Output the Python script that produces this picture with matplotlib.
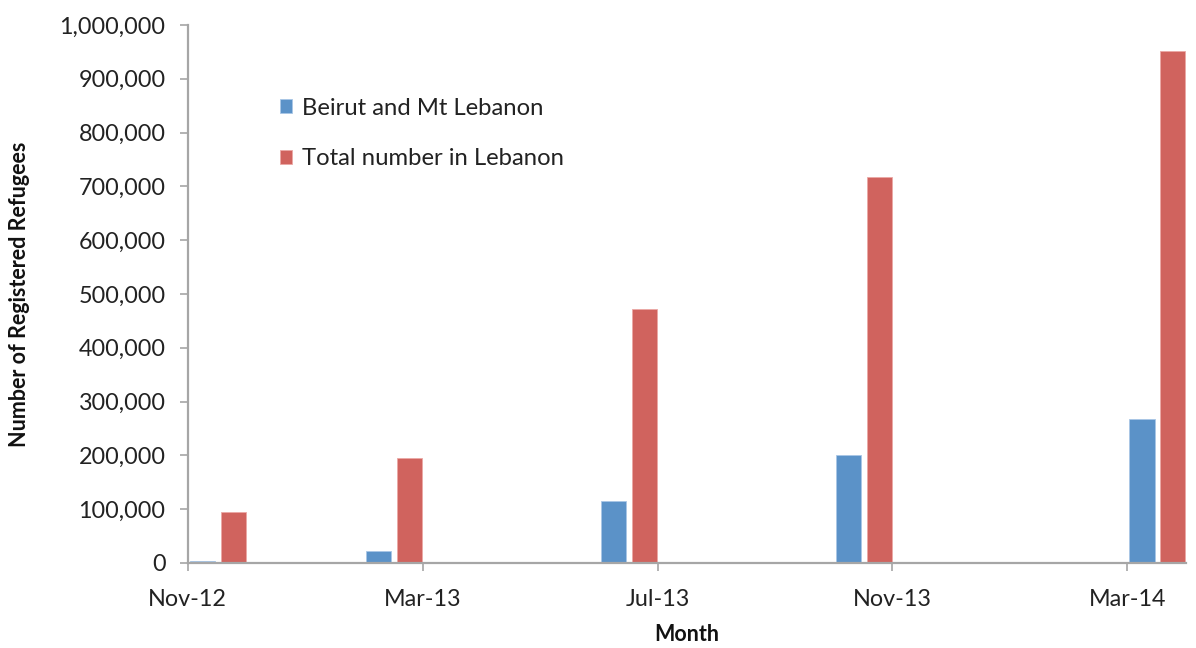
import matplotlib
matplotlib.use("Agg")
import matplotlib.pyplot as plt
from matplotlib.ticker import FuncFormatter, FixedLocator

plt.rcParams['font.family'] = ['Lato', 'DejaVu Sans']

# Months counted from Nov-2012 (0) along a monthly date axis
month_index = [0, 3, 7, 11, 16]
beirut_mt_lebanon = [3000, 22000, 116000, 201000, 268000]
total_lebanon = [95000, 195000, 472000, 717000, 952000]

tick_months = [0, 4, 8, 12, 16]
tick_labels = ["Nov-12", "Mar-13", "Jul-13", "Nov-13", "Mar-14"]

series_names = ["Beirut and Mt Lebanon", "Total number in Lebanon"]
blue = "#5b92c8"
red = "#d0635e"

fig = plt.figure(figsize=(11.96, 6.48), dpi=100)
ax = fig.add_axes([0.157, 0.1312, 0.8346, 0.8302])

bar_w = 0.43
blue_x = [m + 0.25 for m in month_index]
red_x = [m + 0.775 for m in month_index]
ax.bar(blue_x, beirut_mt_lebanon, width=bar_w, color=blue,
       edgecolor="#a9c6e6", linewidth=0.6, label=series_names[0], zorder=2)
ax.bar(red_x, total_lebanon, width=bar_w, color=red,
       edgecolor="#eba8a5", linewidth=0.6, label=series_names[1], zorder=2)

ax.set_xlim(0, 17)
ax.set_ylim(0, 1_000_000)
ax.yaxis.set_major_locator(FixedLocator(range(0, 1_000_001, 100_000)))
ax.yaxis.set_major_formatter(FuncFormatter(lambda v, p: f"{int(v):,}"))
ax.set_xticks(tick_months)
ax.set_xticklabels(tick_labels)

for side in ("top", "right"):
    ax.spines[side].set_visible(False)
for side in ("left", "bottom"):
    ax.spines[side].set_color("#a6a6a6")
    ax.spines[side].set_linewidth(1.6)

ax.tick_params(axis="both", colors="#a6a6a6", length=6, width=1.2,
               labelcolor="#222222", labelsize=16.8)
ax.tick_params(axis="y", pad=10)
ax.tick_params(axis="x", pad=13)

ax.set_ylabel("Number of Registered Refugees", fontsize=15.5, fontweight="bold",
              color="#111111", labelpad=21)
ax.set_xlabel("Month", fontsize=15.5, fontweight="bold", color="#111111",
              labelpad=10)

leg = ax.legend(loc="upper left", bbox_to_anchor=(0.071, 0.905), frameon=False,
                fontsize=17.2, handlelength=0.5, handleheight=0.5,
                handletextpad=0.4, labelspacing=1.25)
for t in leg.get_texts():
    t.set_color("#222222")

fig.savefig("out.png", dpi=100)
